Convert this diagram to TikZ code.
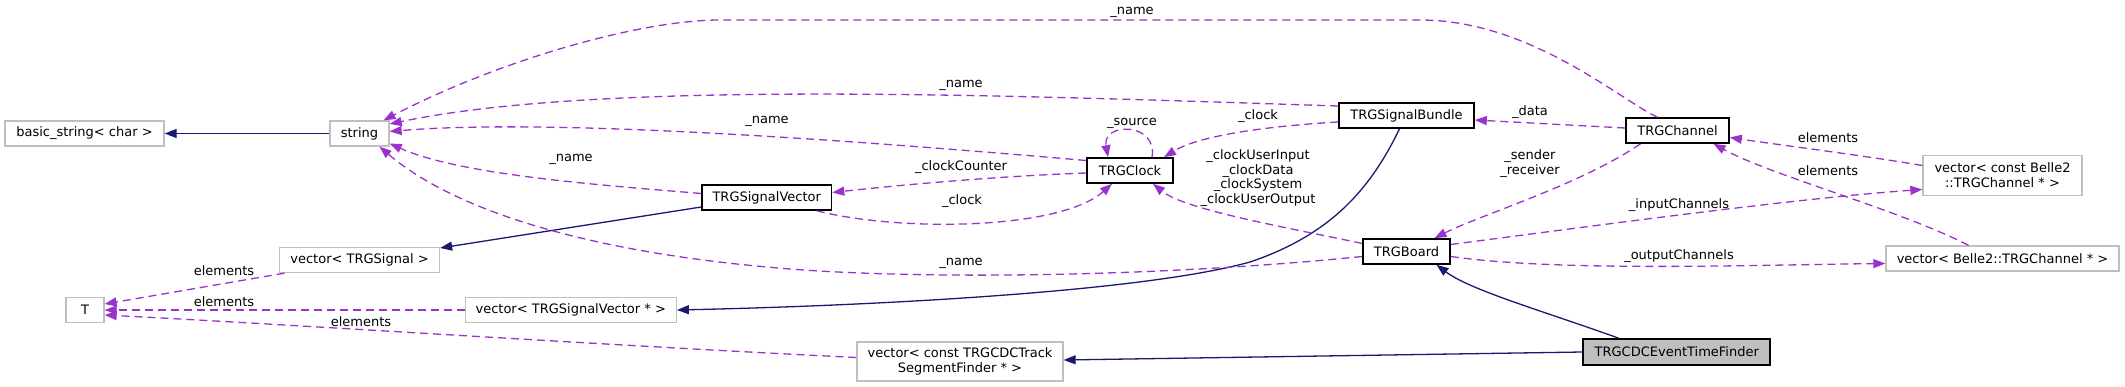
\documentclass[tikz,border=0pt]{standalone}
\usepackage{fontspec}
\setmainfont{DejaVu Sans}
\usetikzlibrary{arrows.meta}

\definecolor{edgenavy}{HTML}{191970}
\definecolor{edgepurple}{HTML}{9A32CD}
\definecolor{boxgray}{HTML}{BFBFBF}

\begin{document}
\begin{tikzpicture}[x=1pt,y=-1pt]

  \tikzstyle{plain} = [rectangle, draw=boxgray, line width=1.3pt, fill=white, inner sep=0pt, minimum height=25pt, align=center, font=\fontsize{13}{14.8}\selectfont]
  \tikzstyle{documented} = [plain, draw=black, line width=1.6pt]
  \tikzstyle{current} = [documented, fill=boxgray]
  \tikzstyle{lbl} = [inner sep=0pt, align=center, font=\fontsize{13}{14.8}\selectfont]

  \tikzstyle{inherit} = [draw=edgenavy, line width=1.3pt, -{Triangle[length=12pt,width=9pt]}]
  \tikzstyle{member} = [draw=edgepurple, line width=1.3pt, dash pattern=on 8pt off 5pt, -{Triangle[length=12pt,width=9pt]}]

  \useasboundingbox (0,0) rectangle (2125,387);

  \node (basicstring) [plain, minimum width=159pt] at (84.5,133.5) {basic\_string< char >};
  \node (string) [plain, minimum width=59pt] at (359.5,133.5) {string};
  \node (T) [plain, minimum width=38pt] at (85,310) {T};
  \node (vecsignal) [plain, minimum width=160pt] at (359.5,260) {vector< TRGSignal >};
  \node (vecsigvec) [plain, minimum width=211pt] at (570.75,310) {vector< TRGSignalVector * >};
  \node (vecsegfinder) [plain, minimum width=206pt, minimum height=39pt] at (960,361.5) {vector< const TRGCDCTrack\\SegmentFinder * >};
  \node (sigvector) [documented, minimum width=129.5pt] at (766.75,197.5) {TRGSignalVector};
  \node (clock) [documented, minimum width=86pt] at (1130,170.5) {TRGClock};
  \node (bundle) [documented, minimum width=135pt] at (1406.5,115.5) {TRGSignalBundle};
  \node (channel) [documented, minimum width=103pt] at (1677.5,130.5) {TRGChannel};
  \node (board) [documented, minimum width=87pt] at (1406.5,251.5) {TRGBoard};
  \node (finder) [current, minimum width=187pt, minimum height=26pt] at (1676.75,352) {TRGCDCEventTimeFinder};
  \node (vecCchannel) [plain, minimum width=159pt, minimum height=40pt] at (2002.5,175.5) {vector< const Belle2\\::TRGChannel * >};
  \node (vecchannel) [plain, minimum width=233pt] at (2002.5,258.5) {vector< Belle2::TRGChannel * >};

  % inheritance
  \draw [inherit] (string) -- (basicstring);
  \draw [inherit] ([yshift=-9.5pt]sigvector.west) -- ([yshift=12pt]vecsignal.east);
  \draw [inherit] ([xshift=-7pt]bundle.south) .. controls (1370,190) and (1330,235) .. (1250,262) .. controls (1150,290) and (900,305) .. (vecsigvec.east);
  \draw [inherit] ([xshift=-58pt]finder.north) .. controls (1540,310) and (1470,290) .. ([xshift=30pt]board.south);
  \draw [inherit] (finder.west) -- ([yshift=1.5pt]vecsegfinder.east);

  % members
  \draw [member] ([xshift=-20pt]channel.north) .. controls (1620,100) and (1530,20) .. (1420,20) -- (720,20) .. controls (640,20) and (500,60) .. ([xshift=24pt]string.north) node [lbl] at (1132,12) {\_name};
  \draw [member] ([yshift=9.5pt]bundle.west) .. controls (1000,95) and (600,80) .. ([yshift=9.5pt]string.east) node [lbl] at (961,85) {\_name};
  \draw [member] ([yshift=10pt]clock.west) .. controls (850,140) and (550,118) .. ([yshift=2pt]string.east) node [lbl] at (767,121) {\_name};
  \draw [member] ([yshift=4pt]sigvector.west) .. controls (600,185) and (460,175) .. ([yshift=-10pt]string.east) node [lbl] at (571,159) {\_name};
  \draw [member] ([yshift=-5pt]board.west) .. controls (1150,278) and (900,280) .. (767,267) .. controls (600,252) and (460,215) .. ([xshift=20pt]string.south) node [lbl] at (961,263) {\_name};
  \draw [member] ([yshift=-2.5pt]clock.west) .. controls (1000,176) and (900,185) .. ([yshift=5pt]sigvector.east) node [lbl] at (961,167) {\_clockCounter};
  \draw [member] ([xshift=50pt]sigvector.south) .. controls (900,232) and (1060,230) .. ([xshift=-18pt]clock.south) node [lbl] at (962,201) {\_clock};
  \draw [member] ([xshift=22pt]clock.north) .. controls (1158,122) and (1102,122) .. ([xshift=-22pt]clock.north) node [lbl] at (1132,123) {\_source};
  \draw [member] ([yshift=-6.5pt]bundle.west) .. controls (1270,126) and (1200,135) .. ([xshift=34pt]clock.north) node [lbl] at (1258,116) {\_clock};
  \draw [member] ([yshift=2.5pt]channel.west) -- ([yshift=-4.5pt]bundle.east) node [lbl] at (1530,112) {\_data};
  \draw [member] ([yshift=8pt]board.west) .. controls (1290,228) and (1185,210) .. ([xshift=23pt]clock.south) node [lbl] at (1258,178) {\_clockUserInput\\\_clockData\\\_clockSystem\\\_clockUserOutput};
  \draw [member] ([xshift=-37pt]channel.south) .. controls (1580,185) and (1480,215) .. ([xshift=28pt]board.north) node [lbl] at (1530,163.5) {\_sender\\\_receiver};
  \draw [member] ([yshift=7pt]board.east) .. controls (1600,225) and (1800,198) .. ([yshift=-14pt]vecCchannel.west) node [lbl] at (1679,205) {\_inputChannels};
  \draw [member] ([yshift=-5pt]board.east) .. controls (1560,272) and (1750,265) .. ([yshift=-5pt]vecchannel.west) node [lbl] at (1679,256) {\_outputChannels};
  \draw [member] ([yshift=10pt]vecCchannel.west) .. controls (1860,155) and (1780,145) .. ([yshift=-7pt]channel.east) node [lbl] at (1828,138) {elements};
  \draw [member] ([xshift=-34pt]vecchannel.north) .. controls (1900,210) and (1770,175) .. ([xshift=36pt]channel.south) node [lbl] at (1828,171) {elements};
  \draw [member] ([xshift=-75pt]vecsignal.south) -- ([yshift=6pt]T.east) node [lbl] at (224,271) {elements};
  \draw [member] (vecsigvec.west) -- (T.east) node [lbl] at (224,302) {elements};
  \draw [member] ([yshift=4pt]vecsegfinder.west) .. controls (600,345) and (300,325) .. ([yshift=-5pt]T.east) node [lbl] at (361,322) {elements};

\end{tikzpicture}
\end{document}
